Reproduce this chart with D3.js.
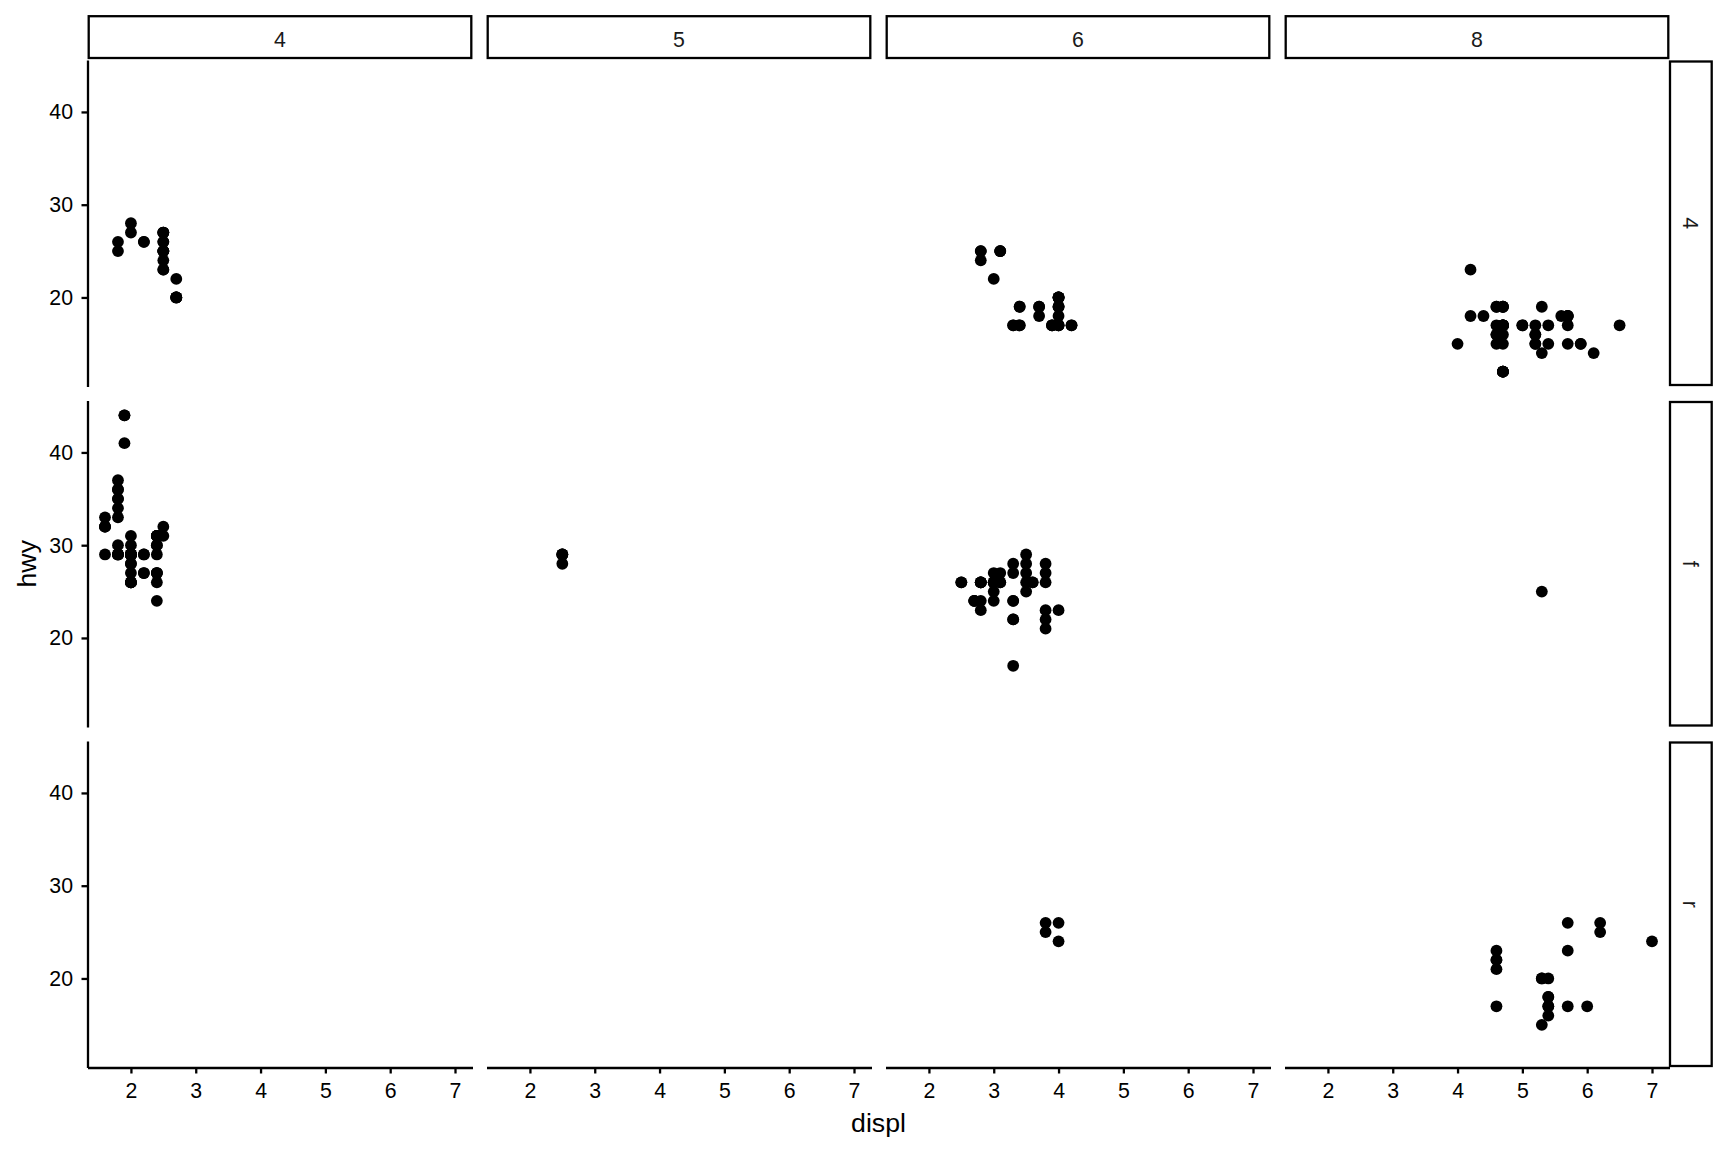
<!DOCTYPE html>
<html>
<head>
<meta charset="utf-8">
<script src="https://cdn.jsdelivr.net/npm/d3@7"></script>
<style>
  body { margin: 0; background: #fff; }
  text { font-family: 'Liberation Sans', Arial, sans-serif; }
</style>
</head>
<body>
<div id="chart"></div>
<script>
/* global d3 */

// facet levels
let cylLevels = [4, 5, 6, 8]
let drvLevels = ['4', 'f', 'r']

// ticks
let xTicks = [2, 3, 4, 5, 6, 7]
let yTicks = [20, 30, 40]

// mpg: engine displacement, highway mpg, cylinders, drive train
let displ = [
  1.8, 1.8, 2.0, 2.0, 2.8, 2.8, 3.1, 1.8, 1.8, 2.0, 2.0, 2.8, 2.8, 3.1, 3.1, 2.8, 3.1, 4.2, 5.3, 5.3,
  5.3, 5.7, 6.0, 5.7, 5.7, 6.2, 6.2, 7.0, 5.3, 5.3, 5.7, 6.5, 2.4, 2.4, 3.1, 3.5, 3.6, 2.4, 3.0, 3.3,
  3.3, 3.3, 3.3, 3.3, 3.8, 3.8, 3.8, 4.0, 3.7, 3.7, 3.9, 3.9, 4.7, 4.7, 4.7, 5.2, 5.2, 3.9, 4.7, 4.7,
  4.7, 5.2, 5.7, 5.9, 4.7, 4.7, 4.7, 4.7, 4.7, 5.2, 5.2, 5.7, 5.9, 4.6, 5.4, 5.4, 4.0, 4.0, 4.0, 4.0,
  4.6, 5.0, 4.2, 4.2, 4.6, 4.6, 4.6, 5.4, 5.4, 3.8, 3.8, 4.0, 4.0, 4.6, 4.6, 4.6, 4.6, 5.4, 1.6, 1.6,
  1.6, 1.6, 1.6, 1.8, 1.8, 1.8, 2.0, 2.4, 2.4, 2.4, 2.4, 2.5, 2.5, 3.3, 2.0, 2.0, 2.0, 2.0, 2.7, 2.7,
  2.7, 3.0, 3.7, 4.0, 4.7, 4.7, 4.7, 5.7, 6.1, 4.0, 4.2, 4.4, 4.6, 5.4, 5.4, 5.4, 4.0, 4.0, 4.6, 5.0,
  2.4, 2.4, 2.5, 2.5, 3.5, 3.5, 3.0, 3.0, 3.5, 3.3, 3.3, 4.0, 5.6, 3.1, 3.8, 3.8, 3.8, 5.3, 2.5, 2.5,
  2.5, 2.5, 2.5, 2.5, 2.2, 2.2, 2.5, 2.5, 2.5, 2.5, 2.5, 2.5, 2.7, 2.7, 3.4, 3.4, 4.0, 4.7, 2.2, 2.2,
  2.4, 2.4, 3.0, 3.0, 3.5, 2.2, 2.2, 2.4, 2.4, 3.0, 3.0, 3.3, 1.8, 1.8, 1.8, 1.8, 1.8, 4.7, 5.7, 2.7,
  2.7, 2.7, 3.4, 3.4, 4.0, 4.0, 2.0, 2.0, 2.0, 2.0, 2.8, 1.9, 2.0, 2.0, 2.0, 2.0, 2.5, 2.5, 2.8, 1.9,
  1.9, 2.0, 2.0, 2.5, 2.5, 1.8, 1.8, 2.0, 2.0, 2.8, 2.8, 3.6, 2.0
]
let hwy = [
  29, 29, 31, 30, 26, 26, 27, 26, 25, 28, 27, 25, 25, 25, 25, 24, 25, 23, 20, 15,
  20, 17, 17, 26, 23, 26, 25, 24, 19, 14, 15, 17, 27, 30, 26, 29, 26, 24, 24, 22,
  22, 24, 24, 17, 22, 21, 23, 23, 19, 18, 17, 17, 19, 19, 12, 17, 15, 17, 17, 12,
  17, 16, 18, 15, 16, 12, 17, 17, 12, 15, 16, 17, 15, 17, 17, 18, 17, 19, 17, 19,
  19, 17, 17, 17, 16, 16, 17, 15, 17, 26, 25, 26, 24, 21, 22, 23, 22, 20, 33, 32,
  32, 29, 32, 34, 36, 36, 29, 26, 27, 30, 31, 26, 26, 28, 26, 29, 28, 29, 24, 24,
  24, 22, 19, 20, 17, 12, 19, 18, 14, 15, 18, 18, 15, 17, 16, 18, 17, 19, 19, 17,
  29, 27, 31, 32, 27, 26, 26, 25, 25, 17, 17, 20, 18, 26, 26, 27, 28, 25, 25, 24,
  27, 25, 25, 23, 26, 26, 26, 26, 27, 23, 27, 25, 20, 20, 19, 17, 20, 17, 29, 27,
  31, 31, 26, 26, 28, 27, 29, 31, 31, 26, 27, 27, 30, 33, 35, 37, 35, 15, 18, 20,
  20, 22, 17, 19, 18, 20, 29, 26, 29, 29, 24, 44, 29, 26, 29, 29, 29, 29, 23, 44,
  41, 29, 26, 28, 29, 29, 29, 28, 29, 26, 26, 26, 27
]
let cyl = [
  4, 4, 4, 4, 6, 6, 6, 4, 4, 4, 4, 6, 6, 6, 6, 6, 6, 8, 8, 8,
  8, 8, 8, 8, 8, 8, 8, 8, 8, 8, 8, 8, 4, 4, 6, 6, 6, 4, 6, 6,
  6, 6, 6, 6, 6, 6, 6, 6, 6, 6, 6, 6, 8, 8, 8, 8, 8, 6, 8, 8,
  8, 8, 8, 8, 8, 8, 8, 8, 8, 8, 8, 8, 8, 8, 8, 8, 6, 6, 6, 6,
  8, 8, 6, 6, 8, 8, 8, 8, 8, 6, 6, 6, 6, 8, 8, 8, 8, 8, 4, 4,
  4, 4, 4, 4, 4, 4, 4, 4, 4, 4, 4, 6, 6, 6, 4, 4, 4, 4, 6, 6,
  6, 6, 6, 6, 8, 8, 8, 8, 8, 8, 8, 8, 8, 8, 8, 8, 6, 6, 8, 8,
  4, 4, 4, 4, 6, 6, 6, 6, 6, 6, 6, 6, 8, 6, 6, 6, 6, 8, 4, 4,
  4, 4, 4, 4, 4, 4, 4, 4, 4, 4, 4, 4, 4, 4, 6, 6, 6, 8, 4, 4,
  4, 4, 6, 6, 6, 4, 4, 4, 4, 6, 6, 6, 4, 4, 4, 4, 4, 8, 8, 4,
  4, 4, 6, 6, 6, 6, 4, 4, 4, 4, 6, 4, 4, 4, 4, 4, 5, 5, 6, 4,
  4, 4, 4, 5, 5, 4, 4, 4, 4, 6, 6, 6, 4
]
let drv = [
  'fffffff44444444444rr',
  'rrrrrrrr4444ffffffff',
  'ffffffff444444444444',
  '4444444444444rrr4444',
  '444444444rrrrrrrrrff',
  'ffffffffffffffffffff',
  'f444444444444rrr4444',
  'fffffffff4444fffff44',
  '444444444444444444ff',
  'fffffffffffffffff444',
  '444444ffffffffffffff',
  'fffffffffffff'
].join('').split('')

let lineC = '#000'
let lineW = 2.3
let tickFont = 21.3
let titleFont = 26.7

var width = 1728
var height = 1152
var left0 = 87.5
var top0 = 60
var panelW = 385
var panelH = 326.5
var gapX = 14
var gapY = 14

var svg = d3.select('#chart').append('svg')
  .attr('width', width)
  .attr('height', height)
  .style('background', '#fff')

function expand (ext) {
  var pad = (ext[1] - ext[0]) * 0.05
  return [ext[0] - pad, ext[1] + pad]
}

var x = d3.scaleLinear().domain(expand(d3.extent(displ))).range([0, panelW])
var y = d3.scaleLinear().domain(expand(d3.extent(hwy))).range([panelH, 0])

var rows = displ.map((d, i) => ({ displ: d, hwy: hwy[i], cyl: cyl[i], drv: drv[i] }))

function styleAxis (g) {
  g.attr('font-family', null).attr('font-size', null)
  g.select('.domain').attr('stroke', lineC).attr('stroke-width', lineW)
  g.selectAll('.tick line').attr('stroke', lineC).attr('stroke-width', lineW)
  g.selectAll('.tick text').attr('fill', '#000').style('font-size', tickFont + 'px')
}

drvLevels.forEach((dv, r) => {
  var py = top0 + r * (panelH + gapY)

  cylLevels.forEach((cv, c) => {
    var px = left0 + c * (panelW + gapX)
    var panel = svg.append('g').attr('transform', 'translate(' + px + ',' + py + ')')

    // top strips only on first row
    if (r === 0) {
      svg.append('rect')
        .attr('x', px + 1.2)
        .attr('y', 16.2)
        .attr('width', panelW - 2.4)
        .attr('height', 41.8)
        .attr('fill', '#fff')
        .attr('stroke', lineC)
        .attr('stroke-width', lineW)
      svg.append('text')
        .attr('x', px + panelW / 2)
        .attr('y', 46.5)
        .attr('text-anchor', 'middle')
        .style('font-size', tickFont + 'px')
        .attr('fill', '#1a1a1a')
        .text(cv)
    }

    if (c === 0) {
      panel.append('g')
        .call(d3.axisLeft(y).tickValues(yTicks).tickFormat(d3.format('d'))
          .tickSize(6).tickSizeOuter(0).tickPadding(8.5))
        .call(styleAxis)
    }

    if (r === drvLevels.length - 1) {
      panel.append('g')
        .attr('transform', 'translate(0,' + panelH + ')')
        .call(d3.axisBottom(x).tickValues(xTicks).tickFormat(d3.format('d'))
          .tickSize(6).tickSizeOuter(0).tickPadding(9))
        .call(styleAxis)
    }

    panel.selectAll('circle')
      .data(rows.filter(d => d.drv === dv && d.cyl === cv))
      .enter().append('circle')
        .attr('cx', d => x(d.displ))
        .attr('cy', d => y(d.hwy))
        .attr('r', 5.9)
        .attr('fill', '#000')
  })

  // right strip
  var sx = left0 + cylLevels.length * (panelW + gapX) - gapX + 0.5
  svg.append('rect')
    .attr('x', sx)
    .attr('y', py + 1.5)
    .attr('width', 41.7)
    .attr('height', panelH - 3)
    .attr('fill', '#fff')
    .attr('stroke', lineC)
    .attr('stroke-width', lineW)
  svg.append('text')
    .attr('transform', 'translate(' + (sx + 13) + ',' + (py + panelH / 2) + ') rotate(90)')
    .attr('text-anchor', 'middle')
    .style('font-size', tickFont + 'px')
    .attr('fill', '#1a1a1a')
    .text(dv)
})

// axis titles
var plotRight = left0 + cylLevels.length * (panelW + gapX) - gapX
var plotBottom = top0 + drvLevels.length * (panelH + gapY) - gapY

svg.append('text')
  .attr('x', (left0 + plotRight) / 2)
  .attr('y', 1131.5)
  .attr('text-anchor', 'middle')
  .style('font-size', titleFont + 'px')
  .attr('fill', '#000')
  .text('displ')

svg.append('text')
  .attr('transform', 'translate(35.5,' + (top0 + plotBottom) / 2 + ') rotate(-90)')
  .attr('text-anchor', 'middle')
  .style('font-size', titleFont + 'px')
  .attr('fill', '#000')
  .text('hwy')
</script>
</body>
</html>
